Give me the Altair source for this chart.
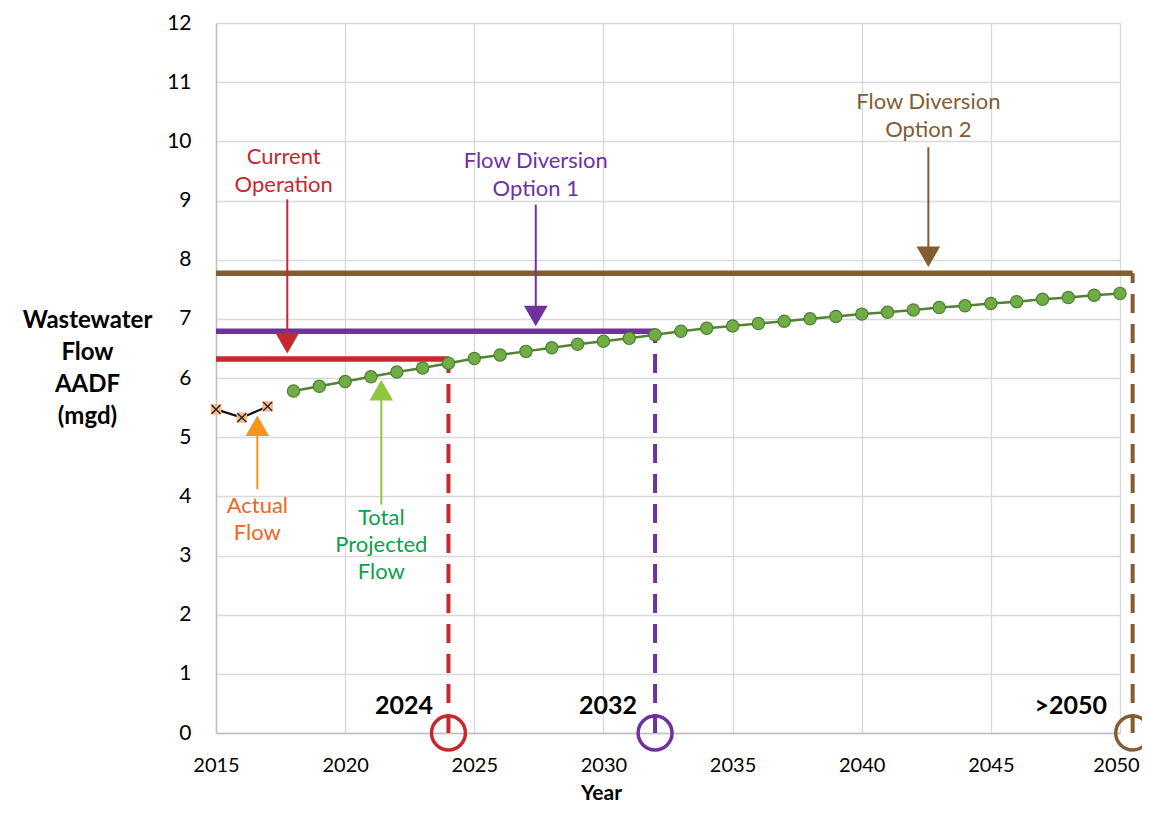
import altair as alt
import pandas as pd

FONT = "Lato"

# ---- data ----
proj_years = list(range(2018, 2051))
proj_flow = [5.78, 5.86, 5.94, 6.02, 6.10, 6.17, 6.25, 6.33, 6.39, 6.45, 6.51, 6.57,
             6.62, 6.67, 6.73, 6.79, 6.84, 6.88, 6.92, 6.96, 7.00, 7.04, 7.08, 7.11,
             7.15, 7.19, 7.22, 7.26, 7.29, 7.33, 7.36, 7.40, 7.43]

actual_years = [2015, 2016, 2017]
actual_flow = [5.47, 5.33, 5.52]

cap_names = ["Current Operation", "Flow Diversion Option 1", "Flow Diversion Option 2"]
cap_level = [6.32, 6.79, 7.77]
cap_start = [2015, 2015, 2015]
cap_end = [2024, 2032, 2050.49]
cap_colors = ["#C5282F", "#7030A0", "#835C32"]

milestone_labels = ["2024", "2032", ">2050"]
milestone_label_x = [2023.4, 2031.3, 2049.5]
milestone_label_y = [0.45, 0.45, 0.45]

# annotation arrows: x, tail value, tip value, direction, colour
arrow_x = [2017.76, 2027.38, 2042.58, 2016.6, 2021.4]
arrow_tail = [9.02, 8.93, 9.90, 4.12, 3.86]
arrow_tip = [6.42, 6.88, 7.88, 5.36, 5.96]
arrow_dir = ["down", "down", "down", "up", "up"]
arrow_colors = ["#C5282F", "#7030A0", "#835C32", "#F7941D", "#8DC63F"]

# annotation texts (one row per line)
note_text = ["Current", "Operation",
             "Flow Diversion", "Option 1",
             "Flow Diversion", "Option 2",
             "Actual", "Flow",
             "Total", "Projected", "Flow"]
note_x = [2017.62, 2017.62,
          2027.38, 2027.38,
          2042.58, 2042.58,
          2016.6, 2016.6,
          2021.4, 2021.4, 2021.4]
note_y = [9.74, 9.27,
          9.66, 9.19,
          10.66, 10.19,
          3.84, 3.38,
          3.64, 3.18, 2.72]
note_colors = ["#C5282F", "#C5282F",
               "#7030A0", "#7030A0",
               "#835C32", "#835C32",
               "#F26522", "#F26522",
               "#0E9F4B", "#0E9F4B", "#0E9F4B"]

x_ticks = [2015, 2020, 2025, 2030, 2035, 2040, 2045, 2050]
y_ticks = list(range(0, 13))

# ---- frames ----
proj_df = pd.DataFrame({"x": proj_years, "y": proj_flow})
act_df = pd.DataFrame({"x": actual_years, "y": actual_flow})
cap_df = pd.DataFrame({"name": cap_names, "y": cap_level, "x": cap_start,
                       "x2": cap_end, "c": cap_colors, "zero": [0, 0, 0]})
mile_df = pd.DataFrame({"t": milestone_labels, "x": milestone_label_x, "y": milestone_label_y})
PX = 1 / 59.17  # one pixel in data units (y)
head_y = [tip + (10 * PX if d == "down" else -10 * PX) for tip, d in zip(arrow_tip, arrow_dir)]
arr_df = pd.DataFrame({"x": arrow_x, "y": arrow_tail, "y2": head_y, "hy": head_y,
                       "c": arrow_colors,
                       "shape": ["triangle-down" if d == "down" else "triangle-up" for d in arrow_dir]})
note_df = pd.DataFrame({"t": note_text, "x": note_x, "y": note_y, "c": note_colors})

xscale = alt.Scale(domain=[2015, 2050], nice=False, zero=False)
yscale = alt.Scale(domain=[0, 12], nice=False)

x_axis = alt.Axis(values=x_ticks, format="d", title="Year", labelFlush=False,
                  labelFontSize=20, labelPadding=22,
                  labelOffset={"condition": {"test": "datum.value == 2050", "value": -4}, "value": 0},
                  titleFontSize=21, titleFontWeight="bold",
                  titleX=385, titleY=60, titleBaseline="middle", titleAnchor="start",
                  titleAlign="center", grid=True, ticks=False)
y_axis = alt.Axis(values=y_ticks, title=["Wastewater", "Flow", "AADF", "(mgd)"],
                  labelFontSize=21, labelPadding=25, titleAngle=0, titleAlign="center",
                  titleBaseline="top", titleX=-129, titleY=285, titleLineHeight=32,
                  titleFontSize=24, titleFontWeight="bold", grid=True, ticks=False)


def X(field="x"):
    return alt.X(f"{field}:Q", scale=xscale, axis=x_axis)


def Y(field="y"):
    return alt.Y(f"{field}:Q", scale=yscale, axis=y_axis)


caps = alt.Chart(cap_df).mark_rule(strokeWidth=5.5).encode(
    x=X(), x2="x2:Q", y=Y(), color=alt.Color("c:N", scale=None))

vdash = alt.Chart(cap_df).mark_rule(strokeWidth=4, strokeDash=[19, 11]).encode(
    x=X("x2"), y=Y("zero"), y2="y:Q", color=alt.Color("c:N", scale=None))

circles = alt.Chart(cap_df).mark_point(shape="circle", filled=False, size=1150, strokeWidth=3.5,
                                       opacity=1).encode(
    x=X("x2"), y=Y("zero"), color=alt.Color("c:N", scale=None))

proj_line = alt.Chart(proj_df).mark_line(color="#548235", strokeWidth=2.5).encode(x=X(), y=Y())
proj_pts = alt.Chart(proj_df).mark_point(shape="circle", filled=True, size=150, fill="#70AD47",
                                         stroke="#4E7F30", strokeWidth=1.2, opacity=1).encode(x=X(), y=Y())

act_line = alt.Chart(act_df).mark_line(color="#111111", strokeWidth=2.2).encode(x=X(), y=Y())
act_sq = alt.Chart(act_df).mark_point(shape="square", filled=True, size=110, fill="#F6B98F",
                                      opacity=1).encode(x=X(), y=Y())
act_x = alt.Chart(act_df).mark_point(shape="M-1,-1L1,1M-1,1L1,-1", filled=False, size=80,
                                     stroke="#222222", strokeWidth=1.4, opacity=1).encode(x=X(), y=Y())

arr_shaft = alt.Chart(arr_df).mark_rule(strokeWidth=2).encode(
    x=X(), y=Y(), y2="y2:Q", color=alt.Color("c:N", scale=None))
arr_head = alt.Chart(arr_df).mark_point(filled=True, size=560, opacity=1).encode(
    x=X(), y=Y("hy"), shape=alt.Shape("shape:N", scale=None), color=alt.Color("c:N", scale=None))

notes = alt.Chart(note_df).mark_text(fontSize=22, font=FONT, align="center", baseline="middle").encode(
    x=X(), y=Y(), text="t:N", color=alt.Color("c:N", scale=None))

miles = alt.Chart(mile_df).mark_text(fontSize=25, font=FONT, fontWeight="bold", align="right",
                                     baseline="middle", color="#000000").encode(x=X(), y=Y(), text="t:N")

chart = alt.layer(caps, vdash, circles, proj_line, proj_pts, act_line, act_sq, act_x,
                  arr_shaft, arr_head, notes, miles).properties(
    width=904, height=710,
    autosize=alt.AutoSizeParams(type="none"),
    padding={"left": 208, "top": 15, "right": 22, "bottom": 73},
    background="white",
).configure_view(stroke=None).configure_axis(
    labelFont=FONT, titleFont=FONT, labelColor="#000000", titleColor="#000000",
    gridColor="#D9D9D9", gridWidth=1.3, domainColor="#BFBFBF", domainWidth=1.5,
)

chart.save("out.html", embed_options={"renderer": "svg", "actions": False})
